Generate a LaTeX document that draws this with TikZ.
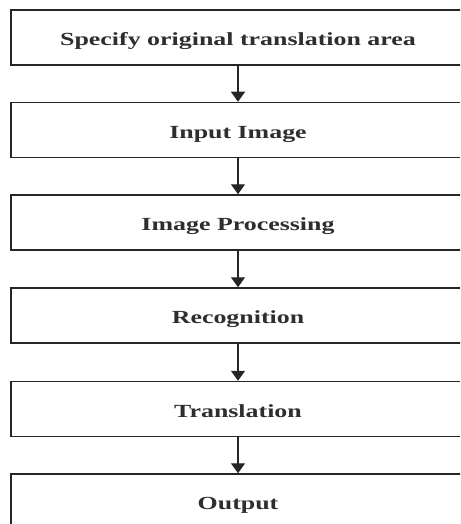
\documentclass[tikz,border=0pt]{standalone}
\usepackage{fontspec}
\setmainfont{Liberation Serif}
\usetikzlibrary{arrows.meta}
\newcommand{\wide}[1]{\scalebox{1.4}[1]{#1}}
\tikzset{
  x=1pt, y=-1pt,
  stage/.style={draw=black!85, line width=1.5pt, fill=white,
    minimum width=454pt, minimum height=55pt, inner sep=0pt,
    text height=16pt, text depth=0pt,
    font=\fontsize{18.5}{20}\selectfont\bfseries, text=black!82},
  flow/.style={draw=black!85, line width=1.3pt,
    -{Triangle[width=14pt,length=10pt]}}
}
\begin{document}
\begin{tikzpicture}
  \useasboundingbox (0,0) rectangle (460,524);
  \clip (0,0) rectangle (460,524);
  \node[stage] (s1) at (238,37.5)  {\wide{Specify original translation area}};
  \node[stage] (s2) at (238,130)   {\wide{Input Image}};
  \node[stage] (s3) at (238,222.5) {\wide{Image Processing}};
  \node[stage] (s4) at (238,315.5) {\wide{Recognition}};
  \node[stage] (s5) at (238,409)   {\wide{Translation}};
  \node[stage] (s6) at (238,501.5) {\wide{Output}};
  \draw[flow] (s1.south) -- (s2.north);
  \draw[flow] (s2.south) -- (s3.north);
  \draw[flow] (s3.south) -- (s4.north);
  \draw[flow] (s4.south) -- (s5.north);
  \draw[flow] (s5.south) -- (s6.north);
\end{tikzpicture}
\end{document}
